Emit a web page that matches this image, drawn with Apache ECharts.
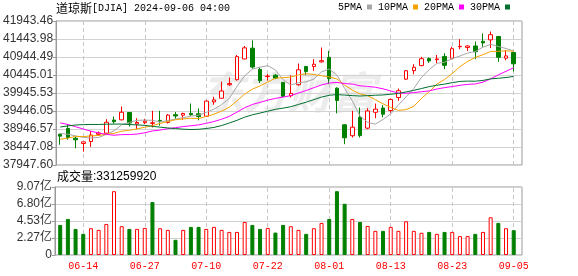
<!DOCTYPE html>
<html><head><meta charset="utf-8">
<script src="https://cdn.jsdelivr.net/npm/echarts@6/dist/echarts.min.js"></script>
<style>html,body{margin:0;padding:0;background:#fff}#c{width:578px;height:276px}</style>
</head><body><div id="c"></div>
<script>
const titleName = '道琼斯';
const titleRest = '[DJIA] 2024-09-06 04:00';
const volTitle = '成交量';
const dates = ['06-11','06-12','06-13','06-14','06-17','06-18','06-20','06-21','06-24','06-25','06-26','06-27','06-28','07-01','07-02','07-03','07-05','07-08','07-09','07-10','07-11','07-12','07-15','07-16','07-17','07-18','07-19','07-22','07-23','07-24','07-25','07-26','07-29','07-30','07-31','08-01','08-02','08-05','08-06','08-07','08-08','08-09','08-12','08-13','08-14','08-15','08-16','08-19','08-20','08-21','08-22','08-23','08-26','08-27','08-28','08-29','08-30','09-03','09-04','09-05'];
const labelDates = ['06-14','06-27','07-10','07-22','08-01','08-13','08-23','09-05'];
const opens = [38800,38960,38690,38545,38600,38800,38830,39195,39200,39404,
 39085,39120,39105,39185,39130,39345,39330,39380,39370,39300,
 39700,39800,40175,40315,40890,41190,40600,40400,40440,40240,
 39870,40175,40680,40680,40810,40930,40080,39063,38760,39266,
 38970,39410,39530,39460,39820,40330,40565,40705,40900,40870,
 40960,40910,41230,41210,41250,41380,41420,41513,40912,41069];
const closes = [38747.42,38712.21,38647.10,38589.16,38778.10,38834.86,39134.76,39150.33,39411.21,39112.16,
 39127.80,39164.06,39118.86,39169.52,39331.85,39308.00,39375.87,39344.79,39291.97,39721.36,
 39753.75,40000.90,40211.72,40954.48,41198.08,40665.02,40287.53,40415.44,40358.09,39853.87,
 39935.07,40589.34,40539.93,40743.33,40842.79,40347.97,39737.26,38703.27,38997.66,38763.45,
 39446.49,39497.54,39357.01,39765.64,40008.39,40563.06,40659.76,40896.53,40834.97,40890.49,
 40712.78,41175.08,41240.52,41250.50,41091.42,41335.05,41563.08,40936.93,40974.97,40755.75];
const lows = [38510,38647,38413,38320,38452,38760,38785,39099,39190,39016,
 38945,39080,38990,39040,39100,39230,39200,39310,39190,39285,
 39620,39790,40140,40290,40880,40620,40220,40290,40330,39840,
 39820,40150,40440,40560,40790,40190,39380,38525,38710,38710,
 38940,39246,39270,39404,39730,40310,40465,40690,40780,40780,
 40606,40880,41160,41110,40884,41227,41190,40810,40855,40542];
const highs = [38820,39080,38730,38600,38896,38880,39220,39293,39571,39420,
 39246,39230,39451,39450,39360,39420,39400,39654,39515,39740,
 39840,40260,40375,41000,41250,41410,40650,40470,40470,40250,
 40440,40764,40700,40884,41208,41116,40100,39080,39450,39543,
 39524,39654,39610,39790,40070,40580,40745,40950,40930,41000,
 41050,41230,41440,41270,41374,41596,41652,41530,41140,41090];
const ma5 = [38821.6,38802.6,38754.8,38712.8,38694.8,38712.3,38796.8,38897.4,39061.9,39128.7,
 39187.3,39193.1,39186.8,39138.5,39182.4,39218.5,39260.8,39306.0,39330.5,39408.4,
 39497.5,39622.6,39795.9,40128.4,40423.8,40606.0,40663.4,40704.1,40584.8,40316.0,
 40170.0,40230.4,40255.3,40332.3,40530.1,40612.7,40442.3,40074.9,39725.8,39309.9,
 39129.6,39081.7,39212.4,39366.0,39615.0,39838.3,40070.8,40378.7,40592.5,40769.0,
 40798.9,40902.0,40970.8,41053.9,41094.1,41218.5,41296.1,41235.4,41180.3,41113.2];
const ma10 = [38663.0,38690.0,38743.6,38733.9,38754.6,38766.9,38799.7,38826.1,38887.3,38911.7,
 38949.8,38995.0,39042.1,39100.2,39155.5,39202.9,39227.0,39246.4,39234.5,39295.4,
 39358.0,39441.7,39551.0,39729.5,39916.1,40051.8,40143.0,40250.0,40356.6,40369.9,
 40388.0,40446.9,40479.7,40458.6,40423.0,40391.3,40336.3,40165.1,40029.0,39920.0,
 39871.1,39762.0,39643.7,39545.9,39462.5,39484.0,39576.2,39795.6,39979.3,40192.0,
 40318.6,40486.4,40674.7,40823.2,40931.5,41008.7,41099.0,41103.1,41117.1,41103.6];
const ma20 = [39115.4,39073.1,39010.0,38946.0,38884.7,38836.1,38799.2,38773.2,38790.5,38792.6,
 38806.4,38842.5,38892.9,38917.0,38955.1,38984.9,39013.3,39036.3,39060.9,39103.6,
 39153.9,39218.3,39296.6,39414.8,39535.8,39627.3,39685.0,39748.2,39795.6,39832.6,
 39873.0,39944.3,40015.3,40094.0,40169.6,40221.6,40239.6,40207.6,40192.8,40145.0,
 40129.6,40104.4,40061.7,40002.2,39942.8,39937.7,39956.3,39980.3,40004.2,40056.0,
 40094.9,40124.2,40159.2,40184.6,40197.0,40246.3,40337.6,40449.3,40548.2,40647.8];
const ma30 = [39001.8,39031.6,39056.4,39068.5,39072.0,39071.4,39079.7,39082.9,39083.6,39070.3,
 39060.2,39047.0,39020.7,38997.4,38975.0,38958.4,38941.8,38930.9,38938.5,38960.2,
 38990.2,39042.2,39112.2,39187.8,39275.4,39340.5,39389.9,39440.8,39492.8,39525.7,
 39565.3,39627.8,39690.9,39762.7,39831.6,39882.0,39902.1,39887.2,39873.4,39861.8,
 39872.4,39883.5,39891.4,39911.3,39933.9,39975.7,40018.5,40070.2,40121.7,40160.6,
 40192.6,40231.7,40266.0,40275.9,40272.3,40294.7,40337.2,40354.6,40375.1,40405.2];
const volumes = [401000000,481000000,348000000,282000000,357000000,335000000,414000000,851000000,384000000,348000000,
 348000000,361000000,706000000,357000000,335000000,203000000,335000000,375000000,375000000,348000000,
 375000000,335000000,308000000,308000000,441000000,401000000,348000000,361000000,299000000,401000000,
 384000000,335000000,282000000,357000000,428000000,481000000,851000000,683000000,481000000,441000000,
 388000000,322000000,322000000,375000000,322000000,450000000,322000000,296000000,308000000,282000000,
 308000000,308000000,252000000,252000000,282000000,308000000,503000000,428000000,357000000,331259920];
const volumeRise = [0,0,0,0,1,1,1,1,1,0, 1,1,0,1,1,0,1,0,0,1, 1,1,1,1,1,0,0,1,0,0,
 1,1,0,1,1,0,0,0,1,0, 1,1,0,1,1,1,1,1,0,1, 0,1,1,1,0,1,1,0,1,0];
const priceTickLabels = ['37947.60','38447.08','38946.57','39446.05','39945.53','40445.01','40944.49','41443.98','41943.46'];
const volTickLabels = ['0','2.27亿','4.53亿','6.80亿','9.07亿'];
const maNames = ['5PMA','10PMA','20PMA','30PMA'];
const maData = [ma5, ma10, ma20, ma30];
const maColors = ['#a6a6a6','#f5a300','#ff00ff','#006e2e'];

const RED = '#ff0000', GREEN = '#008000';
const pMin = parseFloat(priceTickLabels[0]);
const pMax = parseFloat(priceTickLabels[priceTickLabels.length-1]);
const pInt = (pMax - pMin) / (priceTickLabels.length - 1);
const vMax = Math.round(parseFloat(volTickLabels[volTickLabels.length-1]) * 1e8);
const vInt = vMax / (volTickLabels.length - 1);
const labelFont = "'Liberation Sans','Noto Sans CJK SC',sans-serif";
const monoFont = "'Liberation Mono',monospace";

const frameL = 55, frameW = 467;
const dataL = 56.36, dataW = 461.2;
const pTop = 21, pH = 144, vTop = 187, vH = 68;

const dashLines = {
  silent: true, z: 1, symbol: ['none','none'], label: {show:false},
  lineStyle: {type:[4,3], color:'#c8c8c8', width:1},
  emphasis: {disabled:true}, animation:false,
  data: labelDates.map(d => ({xAxis: d}))
};

const chart = echarts.init(document.getElementById('c'), null, {renderer:'canvas'});
chart.setOption({
  animation: false,
  backgroundColor: '#fff',
  title: [
    {text: '{c|' + titleName + '}{m|' + titleRest + '}', left: 56, top: 2, padding: 0,
     textStyle: {fontWeight:'normal', rich: {c: {fontFamily:"'Noto Sans CJK SC'", fontSize:12, fontWeight:'normal', color:'#000'},
                        m: {fontFamily: monoFont, fontSize:10, fontWeight:'normal', color:'#000'}}}},
    {text: '{c|' + volTitle + '}{d|:' + String(volumes[volumes.length-1]) + '}', left: 57, top: 170.5, padding: 0,
     textStyle: {fontWeight:'normal', rich: {c: {fontFamily:"'Noto Sans CJK SC'", fontSize:12, fontWeight:'normal', color:'#000'},
                        d: {fontFamily:"'Liberation Sans'", fontSize:12, fontWeight:'normal', color:'#000'}}}}
  ],
  legend: {
    data: maNames, left: 338, top: 2, padding: 0, itemGap: 6, itemWidth: 5, itemHeight: 5,
    icon: 'rect', align: 'right', selectedMode: false,
    textStyle: {fontFamily: monoFont, fontSize: 10, color: '#000'}
  },
  graphic: [{type:'text', left: 200, top: 70, silent: true, z: -1,
    style: {text: '东方财富', font: "italic bold 44px 'Noto Sans CJK SC'", fill: '#ececec'}}],
  grid: [
    {left: frameL, top: pTop, width: frameW, height: pH, show: true, borderColor: '#999', borderWidth: 1},
    {left: dataL, top: pTop, width: dataW, height: pH},
    {left: frameL, top: vTop, width: frameW, height: vH, show: true, borderColor: '#999', borderWidth: 1},
    {left: dataL, top: vTop, width: dataW, height: vH}
  ],
  xAxis: [
    {gridIndex:0, type:'value', min:0, max:1, show:false, splitLine:{show:false}},
    {gridIndex:1, type:'category', data: dates, show:false},
    {gridIndex:2, type:'value', min:0, max:1, show:false, splitLine:{show:false}},
    {gridIndex:3, type:'category', data: dates, axisLine:{show:false}, axisTick:{show:false}, splitLine:{show:false},
     axisLabel: {interval: (i) => labelDates.indexOf(dates[i]) >= 0, color: RED, fontFamily: monoFont, fontSize: 10, margin: 6}}
  ],
  yAxis: [
    {gridIndex:0, type:'value', min:pMin, max:pMax, interval:pInt,
     axisLine:{show:true, lineStyle:{color:'#999'}}, axisTick:{show:true, length:3, lineStyle:{color:'#999'}},
     axisLabel:{margin:3, color:'#333', fontFamily:labelFont, fontSize:12,
       formatter: (v) => priceTickLabels[Math.round((v - pMin) / pInt)]},
     splitLine:{lineStyle:{color:'#d2d2d2'}}},
    {gridIndex:1, type:'value', min:pMin, max:pMax, show:false, splitLine:{show:false}},
    {gridIndex:2, type:'value', min:0, max:vMax, interval:vInt,
     axisLine:{show:true, lineStyle:{color:'#999'}}, axisTick:{show:true, length:3, lineStyle:{color:'#999'}},
     axisLabel:{margin:3, color:'#333', fontFamily:labelFont, fontSize:12,
       formatter: (v) => volTickLabels[Math.round(v / vInt)]},
     splitLine:{lineStyle:{color:'#d2d2d2'}}},
    {gridIndex:3, type:'value', min:0, max:vMax, show:false, splitLine:{show:false}}
  ],
  series: [
    {type:'line', xAxisIndex:1, yAxisIndex:1, data:[], z:1, markLine: dashLines},
    {type:'line', xAxisIndex:3, yAxisIndex:3, data:[], z:1, markLine: dashLines},
    {type:'candlestick', name:'K', xAxisIndex:1, yAxisIndex:1, barWidth:4,
     data: dates.map((d,i) => [opens[i], closes[i], lows[i], highs[i]]),
     itemStyle: {color:'#ffffff', color0:GREEN, borderColor:RED, borderColor0:GREEN, borderWidth:1}},
    ...maNames.map((n, k) => ({
      type:'line', name:n, xAxisIndex:1, yAxisIndex:1, data: maData[k], symbol:'none', showSymbol:false,
      color: maColors[k], lineStyle:{width:1, color: maColors[k]}, z:3, silent:true
    })),
    {type:'bar', name:'VOL', xAxisIndex:3, yAxisIndex:3, barWidth:4,
     data: volumes.map((v,i) => ({value: v, itemStyle: volumeRise[i]
        ? {color:'#ffffff', borderColor:RED, borderWidth:1}
        : {color:GREEN, borderColor:GREEN, borderWidth:1}}))}
  ]
});
</script>
</body></html>
